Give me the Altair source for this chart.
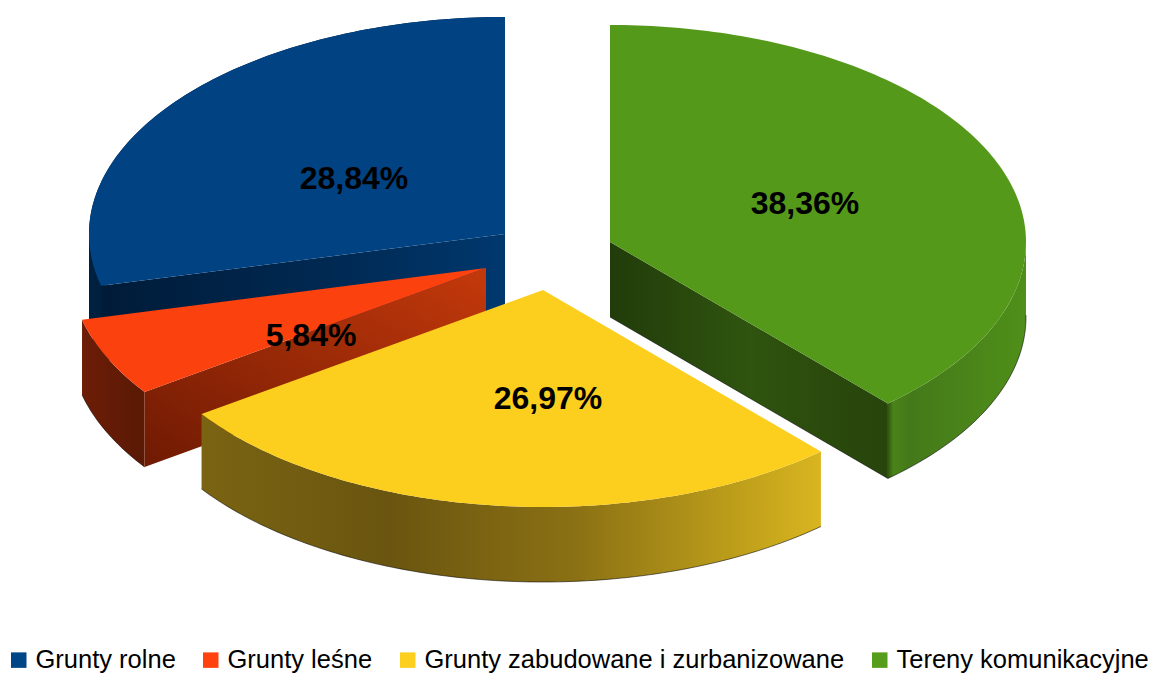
import numpy as np
import pandas as pd
import altair as alt

# values (clockwise from 12 o'clock)
categories = ["Tereny komunikacyjne", "Grunty zabudowane i zurbanizowane", "Grunty leśne", "Grunty rolne"]
shares = [38.36, 26.97, 5.84, 28.84]
labels = ["38,36%", "26,97%", "5,84%", "28,84%"]
legend_order = ["Grunty rolne", "Grunty leśne", "Grunty zabudowane i zurbanizowane", "Tereny komunikacyjne"]
colors = ["#55991B", "#FCCE1E", "#FB410E", "#004282"]
legend_colors = ["#004586", "#FF420E", "#FCCE1E", "#579D1C"]

# drawing geometry of the tilted pie
RX, RY, DEPTH = 416.0, 217.0, 75.0
apex = [(610, 242), (543, 290), (486, 268), (505, 234)]
label_xy = [(805, 204), (548, 399), (311, 336), (354, 179)]

edges = np.concatenate([[0.0], np.cumsum(shares)]) / sum(shares) * 2 * np.pi


def rim(c, a0, a1, dy=0.0):
    t = np.linspace(a0, a1, max(int(abs(a1 - a0) * 60), 8))
    return list(zip(c[0] + RX * np.sin(t), c[1] - RY * np.cos(t) + dy))


def top_face(i):
    c = apex[i]
    return [c] + rim(c, edges[i], edges[i + 1]) + [c]


def outer_wall(i, a0=None, a1=None):
    c = apex[i]
    a0 = edges[i] if a0 is None else a0
    a1 = edges[i + 1] if a1 is None else a1
    return rim(c, a0, a1) + rim(c, a1, a0, DEPTH)


def cut_wall(i, a):
    c = apex[i]
    p = rim(c, a, a)[0]
    return [c, p, (p[0], p[1] + DEPTH), (c[0], c[1] + DEPTH), c]


def grad(stops, x1=0, y1=0, x2=1, y2=0):
    return alt.Gradient(
        gradient="linear", x1=x1, y1=y1, x2=x2, y2=y2,
        stops=[alt.GradientStop(offset=o, color=col) for o, col in stops],
    )


X = alt.X("x:Q", axis=None, scale=alt.Scale(domain=[8, 1149], nice=False, zero=False))
Y = alt.Y("y:Q", axis=None, scale=alt.Scale(domain=[673, 8], nice=False, zero=False))


def shape(points, fill):
    df = pd.DataFrame(points, columns=["x", "y"]).assign(i=lambda d: range(len(d)))
    return alt.Chart(df).mark_line(fill=fill, stroke=None, strokeWidth=0, interpolate="linear").encode(
        x=X, y=Y, order=alt.Order("i:Q")
    )


def edge(points):
    df = pd.DataFrame(points, columns=["x", "y"]).assign(i=lambda d: range(len(d)))
    return alt.Chart(df).mark_line(color="#000000", strokeWidth=1, opacity=0.55).encode(
        x=X, y=Y, order=alt.Order("i:Q")
    )


G, Yw, R, B = 0, 1, 2, 3
a = edges
c_g, c_y, c_r, c_b = apex
bx, by = c_b[0] - RX, c_b[1]

layers = [
    # blue
    shape(outer_wall(B), "#00203f"),
    shape([(bx, by), (bx, by + DEPTH + 12), (bx + 16, by + DEPTH + 12), (bx + 16, by), (bx, by)], "#00203f"),
    shape(cut_wall(B, a[B]), grad([(0, "#001b38"), (0.6, "#002a54"), (1, "#00386e")])),
    shape(top_face(B), colors[B]),
    # red
    shape(outer_wall(R), grad([(0, "#6d1d06"), (1, "#591905")])),
    shape(cut_wall(R, a[R]), grad([(0, "#6f1a03"), (1, "#c4390b")], 0, 1, 1, 0)),
    edge(rim(c_r, a[R], a[R + 1], DEPTH)),
    shape(top_face(R), colors[R]),
    # green
    shape(cut_wall(G, a[G + 1]), grad([(0, "#213c0a"), (0.5, "#2f540f"), (0.85, "#29480c"), (1, "#27450c")])),
    shape(outer_wall(G, a[G + 1] - np.pi * 0.27, a[G + 1]),
          grad([(0, "#4f8f19"), (0.85, "#44791a"), (0.96, "#4a8417"), (1, "#2f5610")], 1, 0, 0, 0)),
    edge(rim(c_g, a[G + 1] - np.pi * 0.27, a[G + 1], DEPTH) + cut_wall(G, a[G + 1])[2:4]),
    shape(top_face(G), colors[G]),
    # yellow
    shape(outer_wall(Yw), grad([(0, "#7a6412"), (0.3, "#6a5510"), (0.6, "#8a7014"), (0.85, "#bb9c1a"), (1, "#d9b520")])),
    edge(rim(c_y, a[Yw], a[Yw + 1], DEPTH)),
    shape(top_face(Yw), colors[Yw]),
]

text_df = pd.DataFrame({"x": [p[0] for p in label_xy], "y": [p[1] for p in label_xy], "t": labels})
text = alt.Chart(text_df).mark_text(
    font="Liberation Sans", fontWeight="bold", fontSize=32, color="#000000", baseline="middle", align="center"
).encode(x=X, y=Y, text="t:N")

legend_df = pd.DataFrame({"cat": legend_order, "x": [0, 0, 0, 0], "y": [0, 0, 0, 0]})
legend_layer = alt.Chart(legend_df).mark_square(size=0, opacity=1).encode(
    x=X, y=Y,
    color=alt.Color(
        "cat:N",
        scale=alt.Scale(domain=legend_order, range=legend_colors),
        sort=legend_order,
        legend=alt.Legend(
            title=None, orient="none", legendX=-2, legendY=639, direction="horizontal", columns=4,
            symbolType="square", symbolSize=240, symbolStrokeWidth=0, symbolOpacity=1,
            labelFont="Liberation Sans", labelFontSize=25.5, labelColor="#000000",
            columnPadding=22, labelOffset=4, padding=0, labelLimit=600,
        ),
    ),
)

chart = alt.layer(*layers, text, legend_layer).properties(
    width=1141, height=665, padding=0, autosize=alt.AutoSizeParams(type="none"), background="#ffffff"
).configure_view(stroke=None)

chart.save("out.html", embed_options={"renderer": "svg", "actions": False})
